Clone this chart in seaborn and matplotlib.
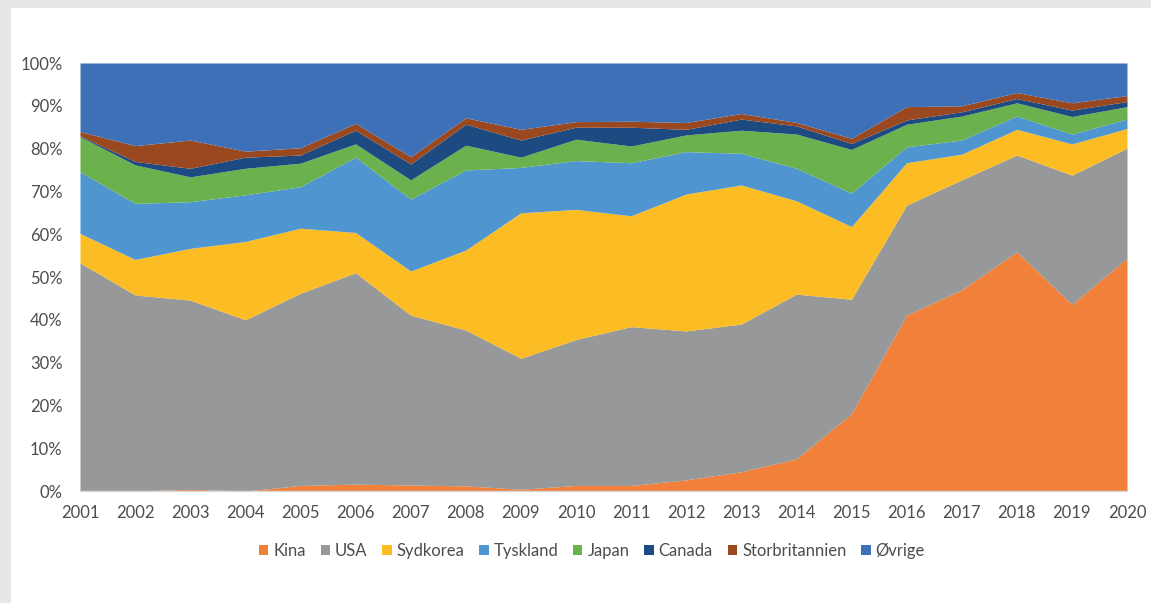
import numpy as np
import matplotlib
matplotlib.use("Agg")
import matplotlib.pyplot as plt
from matplotlib.patches import Rectangle, Patch
from matplotlib.ticker import FuncFormatter
import seaborn as sns

years = list(range(2001, 2021))

# Share of total per country (percent)
kina = [0.0, 0.0, 0.4, 0.0, 1.3, 1.6, 1.4, 1.2, 0.4, 1.3,
        1.3, 2.6, 4.5, 7.5, 18.1, 41.1, 47.0, 55.9, 43.6, 54.4]
usa = [53.3, 45.8, 44.2, 40.0, 44.9, 49.4, 39.7, 36.4, 30.6, 34.1,
       37.1, 34.8, 34.5, 38.5, 26.7, 25.7, 25.7, 22.6, 30.2, 25.7]
sydkorea = [6.9, 8.3, 12.1, 18.3, 15.2, 9.4, 10.3, 18.7, 34.0, 30.4,
            25.9, 32.0, 32.5, 21.8, 17.0, 9.9, 6.0, 6.0, 7.3, 4.6]
tyskland = [14.4, 13.1, 10.9, 10.9, 9.7, 17.6, 16.8, 18.7, 10.6, 11.4,
            12.4, 9.9, 7.4, 7.6, 7.8, 3.7, 3.3, 3.1, 2.3, 2.2]
japan = [8.2, 9.0, 5.8, 6.2, 5.5, 3.1, 4.5, 5.8, 2.4, 5.0,
         3.9, 3.9, 5.4, 8.0, 10.2, 5.3, 5.6, 3.1, 4.1, 2.9]
canada = [0.2, 0.8, 2.0, 2.6, 1.9, 3.2, 3.7, 4.9, 4.0, 2.8,
          4.4, 1.3, 2.6, 1.9, 1.4, 1.0, 1.0, 1.0, 1.5, 1.2]
storbritannien = [1.0, 3.7, 6.6, 1.4, 1.7, 1.6, 1.7, 1.5, 2.5, 1.3,
                  1.4, 1.6, 1.3, 0.8, 1.2, 3.1, 1.4, 1.4, 1.7, 1.4]
ovrige = [16.0, 19.3, 18.0, 20.6, 19.8, 14.1, 21.9, 12.8, 15.5, 13.7,
          13.6, 13.9, 11.8, 13.9, 17.6, 10.2, 10.0, 6.9, 9.3, 7.6]

labels = ["Kina", "USA", "Sydkorea", "Tyskland", "Japan", "Canada",
          "Storbritannien", "Øvrige"]
series = [kina, usa, sydkorea, tyskland, japan, canada, storbritannien, ovrige]
colors = ["#F0803A", "#969899", "#FBBC24", "#4F96D1", "#6BB14E",
          "#1D4A80", "#9A4820", "#3E70B8"]

sns.set_theme(style="white")
plt.rcParams["font.family"] = ["Lato", "DejaVu Sans"]
palette = sns.color_palette(colors)

W, H = 1151, 603
fig = plt.figure(figsize=(W / 100, H / 100), dpi=100)
fig.patch.set_facecolor("#E6E7E9")
fig.patches.append(Rectangle((11 / W, 0), 1 - 11 / W, 1 - 8 / H,
                             transform=fig.transFigure, facecolor="white",
                             edgecolor="none", zorder=-10))

ax = fig.add_axes([80 / W, 1 - 491 / H, (1127 - 80) / W, (491 - 63) / H])
ax.set_zorder(2)
ax.set_facecolor("white")

# Normalise each year to a 100 % stack
data = np.array(series, dtype=float)
data = data / data.sum(axis=0) * 100

ax.stackplot(years, data, colors=palette, linewidth=0, zorder=2)

ax.set_xlim(years[0], years[-1])
ax.set_ylim(0, 100)
ax.set_xticks(years)
ax.set_yticks(np.arange(0, 101, 10))
ax.yaxis.set_major_formatter(FuncFormatter(lambda v, p: f"{int(v)}%"))

for s in ["top", "right", "left"]:
    ax.spines[s].set_visible(False)
ax.spines["bottom"].set_color("#D9D9D9")
ax.spines["bottom"].set_linewidth(1.0)

text_color = "#4D4D4D"
ax.tick_params(axis="x", direction="out", length=4, width=1, color="#D9D9D9",
               labelsize=12, labelcolor=text_color, pad=6)
ax.tick_params(axis="y", length=0, labelsize=12, labelcolor=text_color, pad=12.5)

handles = [Patch(facecolor=c, edgecolor="none") for c in palette]
fig.legend(handles, labels, loc="center", bbox_to_anchor=(592 / W, 1 - 551 / H),
           ncol=8, frameon=False, fontsize=12, handlelength=0.55,
           handleheight=0.55, handletextpad=0.3, columnspacing=0.9,
           labelcolor=text_color)

fig.savefig("out.png", dpi=100)
